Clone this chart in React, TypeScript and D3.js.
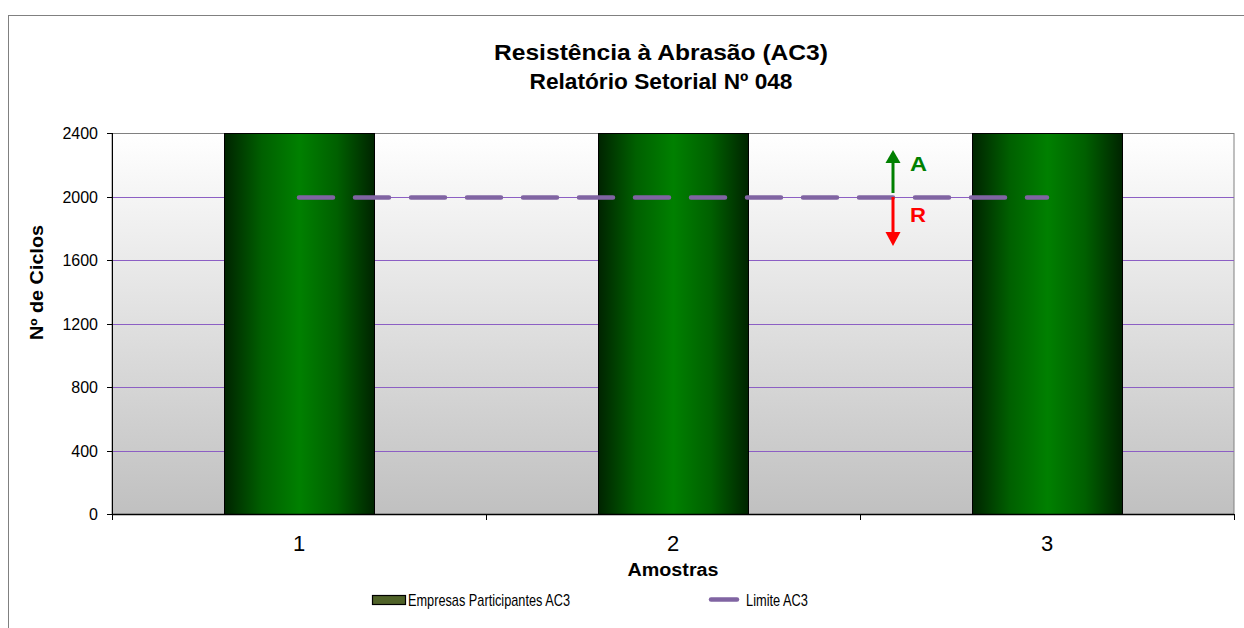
import React from "react";
import * as d3 from "d3";

const categories = ["1", "2", "3"];
const barValues = [2400, 2400, 2400];
const limitValues = [2000, 2000, 2000];
const yTicks = [0, 400, 800, 1200, 1600, 2000, 2400];
const titleLines = ["Resistência à Abrasão (AC3)", "Relatório Setorial Nº 048"];
const seriesNames = ["Empresas Participantes AC3", "Limite AC3"];

const W = 1244;
const H = 628;
const M = { left: 112, right: 1234, top: 133, bottom: 514 };
const FONT = "Arial, 'Liberation Sans', Helvetica, sans-serif";

export default function App() {
  const x = d3.scaleBand<string>().domain(categories).range([M.left, M.right]).paddingInner(0.6).paddingOuter(0.3);
  const band = d3.scaleBand<string>().domain(categories).range([M.left, M.right]);
  const y = d3.scaleLinear().domain([0, 2400]).range([M.bottom, M.top]);
  const bw = x.bandwidth();
  const crisp = (v: number) => Math.round(v) + 0.5;

  const lineGen = d3
    .line<number>()
    .x((_, i) => (band(categories[i]) as number) + band.bandwidth() / 2)
    .y((d) => crisp(y(d)));

  const boundaries = [...categories.map((c) => band(c) as number), M.right];
  const arrowX = 893;
  const titleLens = [334, 263];

  return (
    <svg width={W} height={H} style={{ position: "absolute", left: 0, top: 0, background: "#fff" }} fontFamily={FONT}>
      <defs>
        <linearGradient id="bg" x1="0" y1="0" x2="0" y2="1">
          <stop offset="0" stopColor="#ffffff" />
          <stop offset="1" stopColor="#c0c0c0" />
        </linearGradient>
        <linearGradient id="barg" x1="0" y1="0" x2="1" y2="0">
          <stop offset="0" stopColor="#002400" />
          <stop offset="0.25" stopColor="#006000" />
          <stop offset="0.5" stopColor="#008000" />
          <stop offset="0.75" stopColor="#006000" />
          <stop offset="1" stopColor="#002400" />
        </linearGradient>
      </defs>
      <rect x={8.5} y={15.5} width={1300} height={700} fill="#fff" stroke="#808080" strokeWidth={1} />
      {titleLines.map((t, i) => (
        <text key={i} x={661} y={60 + i * 29} textAnchor="middle" fontWeight="bold" fontSize={22} fill="#000"
          textLength={titleLens[i]} lengthAdjust="spacingAndGlyphs">
          {t}
        </text>
      ))}
      <rect x={M.left} y={M.top + 0.5} width={M.right - M.left} height={M.bottom - M.top} fill="url(#bg)" stroke="#808080" strokeWidth={1} />
      {yTicks.slice(1, -1).map((t) => (
        <line key={t} x1={M.left} x2={M.right} y1={crisp(y(t))} y2={crisp(y(t))} stroke="#8c5fc4" strokeWidth={1} />
      ))}
      {categories.map((c, i) => (
        <rect key={c} x={Math.round(x(c) as number) + 0.5} y={y(barValues[i]) + 0.5} width={Math.round(bw)} height={M.bottom - y(barValues[i])} fill="url(#barg)" stroke="#000" strokeWidth={1} />
      ))}
      <path d={lineGen(limitValues) || ""} fill="none" stroke="#8064a2" strokeWidth={4.5} strokeLinecap="round" strokeDasharray="34 22" />
      {/* axes */}
      <line x1={M.left + 0.5} x2={M.left + 0.5} y1={M.top} y2={M.bottom} stroke="#000" />
      <line x1={M.left} x2={M.right} y1={M.bottom + 0.5} y2={M.bottom + 0.5} stroke="#000" strokeWidth={1.5} />
      {yTicks.map((t) => (
        <g key={t}>
          <line x1={M.left - 5} x2={M.left} y1={crisp(y(t))} y2={crisp(y(t))} stroke="#000" />
          <text x={98} y={y(t) + 6} textAnchor="end" fontSize={16} fill="#000">
            {t}
          </text>
        </g>
      ))}
      {boundaries.map((b, i) => (
        <line key={i} x1={crisp(b)} x2={crisp(b)} y1={M.bottom} y2={M.bottom + 6} stroke="#000" />
      ))}
      {categories.map((c) => (
        <text key={c} x={(band(c) as number) + band.bandwidth() / 2} y={551} textAnchor="middle" fontSize={22} fill="#000">
          {c}
        </text>
      ))}
      <text x={673} y={576} textAnchor="middle" fontWeight="bold" fontSize={18} fill="#000" textLength={91} lengthAdjust="spacingAndGlyphs">
        Amostras
      </text>
      <text transform={`translate(43,${282.5}) rotate(-90)`} textAnchor="middle" fontWeight="bold" fontSize={18} fill="#000" textLength={115} lengthAdjust="spacingAndGlyphs">
        Nº de Ciclos
      </text>
      {/* arrows */}
      <line x1={arrowX} x2={arrowX} y1={193} y2={162} stroke="#008000" strokeWidth={3} />
      <path d={`M${arrowX - 7.5},${163} L${arrowX},${150} L${arrowX + 7.5},${163} Z`} fill="#008000" />
      <text x={910} y={171} fontWeight="bold" fontSize={20} fill="#008000" textLength={17} lengthAdjust="spacingAndGlyphs">A</text>
      <line x1={arrowX} x2={arrowX} y1={197} y2={234} stroke="#ff0000" strokeWidth={3} />
      <path d={`M${arrowX - 7.5},${232} L${arrowX},${246} L${arrowX + 7.5},${232} Z`} fill="#ff0000" />
      <text x={910} y={222} fontWeight="bold" fontSize={20} fill="#ff0000" textLength={16} lengthAdjust="spacingAndGlyphs">R</text>
      {/* legend */}
      <rect x={372.5} y={595.5} width={33} height={9} fill="#4f6228" stroke="#000" strokeWidth={1.2} />
      <text x={408} y={606} fontSize={17} fill="#000" textLength={162} lengthAdjust="spacingAndGlyphs">
        {seriesNames[0]}
      </text>
      <line x1={711} x2={737} y1={599.5} y2={599.5} stroke="#8064a2" strokeWidth={4.5} strokeLinecap="round" />
      <text x={746} y={606} fontSize={17} fill="#000" textLength={62} lengthAdjust="spacingAndGlyphs">
        {seriesNames[1]}
      </text>
    </svg>
  );
}
